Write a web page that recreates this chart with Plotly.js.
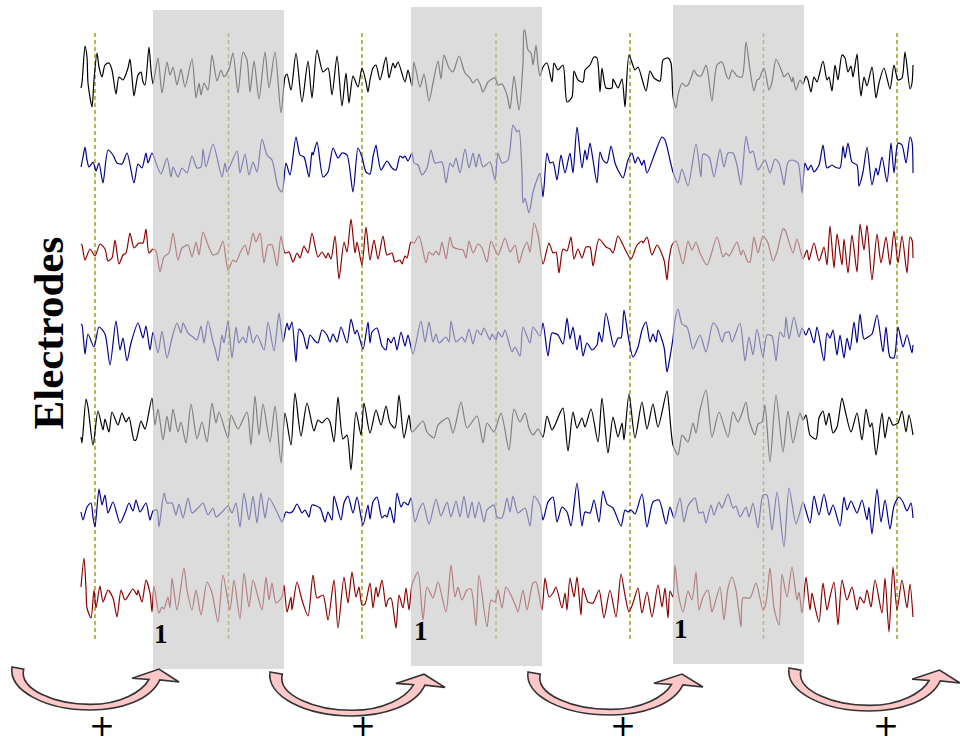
<!DOCTYPE html>
<html><head><meta charset="utf-8">
<script src="https://cdn.plot.ly/plotly-3.0.1.min.js"></script>
<style>html,body{margin:0;padding:0;background:#fff}#c{width:960px;height:743px}</style>
</head><body><div id="c"></div>
<script>
// Each channel: flat list of time, amplitude, time, amplitude ...
const ch1=[0,-13,1,-8,4,29,6,18,7,-8,11,-32,13,-5,16,22,18,8,21,-2,24,10,28,12,31,5,35,-19,38,-2,42,-5,47,7,49,16,51,-2,53,-21,57,0,60,3,62,-7,64,-10,68,28,70,5,72,-9,77,17,81,-18,86,13,89,0,92,8,96,-10,100,6,104,-12,111,16,115,-23,118,-8,120,-20,123,-8,127,-15,131,20,136,-6,140,5,143,-2,148,6,152,22,157,-18,162,23,166,15,169,-17,173,14,178,-24,184,23,188,-13,194,23,200,-38,204,-2,206,1,210,-15,215,22,221,-27,227,14,231,-23,236,25,242,3,247,7,251,-20,256,19,261,-31,265,2,268,-28,272,-1,277,-12,281,7,285,-7,287,-17,289,-5,292,7,295,10,299,-5,305,18,308,-3,312,12,314,7,317,13,324,-7,327,5,331,-11,333,13,339,-12,343,1,348,-26,352,-8,357,14,360,-4,363,20,368,7,372,3,378,19,384,2,389,-3,392,-8,396,-4,399,-9,402,-17,407,-7,414,-3,417,-10,421,-9,426,-20,429,-34,433,-1,438,-35,442,12,443,45,444,44,447,25,450,22,452,10,455,30,457,10,459,-1,462,8,466,12,471,-7,473,12,477,5,482,10,486,-27,491,-22,493,4,497,-5,502,-7,504,5,509,10,513,18,516,17,519,-17,521,7,525,-13,531,-13,532,-4,537,-13,541,-4,544,-32,548,20,554,5,557,8,565,-16,569,4,573,-3,579,-6,582,15,587,17,590,12,592,-22,595,-33,597,-20,601,-8,604,-11,607,-10,611,0,613,5,616,0,620,-1,625,10,627,2,631,-26,636,10,641,13,646,-2,648,-4,651,5,656,-1,661,-2,665,33,669,5,673,-16,676,-5,678,-4,683,7,688,-15,691,-7,695,16,701,3,703,-2,707,2,711,-7,712,-2,715,-15,719,-5,722,-9,725,-1,727,-5,730,-17,733,-2,736,-7,742,14,746,-5,748,-2,751,-16,754,10,757,-5,761,20,764,17,767,3,770,9,772,-2,776,21,778,-3,780,-21,783,-2,786,-11,791,8,795,-23,798,-8,803,7,809,-14,813,10,817,-5,821,-3,824,23,829,-14,831,-8,832,10];
const ch2=[0,-7,2,3,4,13,6,0,8,-7,12,-2,15,-11,18,-3,22,-23,27,10,32,5,36,-3,41,-4,46,7,53,-23,57,-4,61,-8,65,7,67,-3,71,7,75,-3,80,-14,86,2,90,-17,92,-7,97,-17,101,-8,106,-13,111,4,116,-8,120,-7,122,11,125,-7,132,16,141,-17,144,-3,146,-12,156,9,159,-13,164,6,168,-15,172,-2,176,-12,181,21,186,5,191,0,197,-27,201,-32,205,-3,209,-15,215,23,219,5,223,3,228,-17,231,8,232,5,236,18,242,-17,247,-12,252,12,257,2,261,7,266,5,272,-32,277,12,281,3,285,-12,289,-14,292,3,295,15,297,3,300,-10,306,-1,311,-8,315,-10,319,4,322,2,324,4,327,-1,331,7,333,-3,337,-5,341,-15,346,-8,350,10,354,-3,361,-2,365,-23,369,-3,372,-7,375,2,379,-13,384,11,388,-8,392,7,395,-7,398,6,402,-7,409,-2,414,-20,417,7,421,-3,427,0,432,35,436,28,438,30,441,-13,442,-43,444,-38,448,-53,452,-32,457,-17,459,-13,462,-37,466,7,469,-3,472,-2,476,-20,480,5,484,-13,489,7,492,-13,496,33,501,-8,504,10,506,0,509,17,512,0,516,-23,519,8,522,0,526,-3,530,14,534,-3,537,-10,542,-18,547,0,551,7,554,-3,557,3,561,-5,563,0,566,-13,574,7,581,23,584,20,589,0,592,-12,597,-23,601,-9,607,-26,615,16,620,-17,622,6,628,3,633,-17,639,11,643,-7,647,7,652,7,656,-5,660,-25,665,24,669,7,672,9,677,-10,684,0,689,-13,694,1,698,-3,701,-15,703,-25,707,-2,711,0,717,-3,721,-33,724,-3,727,-10,730,-5,733,-12,738,-5,742,15,746,-8,751,-5,754,-7,759,-8,762,14,764,2,767,17,771,-2,776,-5,778,-26,782,-12,786,13,791,-25,795,-8,797,-15,801,3,806,-22,810,17,813,-13,817,17,821,15,825,-3,829,23,831,18,832,-13];
const ch3=[0,6,1,5,4,-10,9,1,14,-6,19,6,24,1,27,-11,31,-8,34,10,38,-14,42,-5,45,-3,49,17,53,2,58,7,62,7,65,21,68,-3,72,1,75,-1,79,-22,83,-7,88,-3,92,17,97,-10,101,2,107,5,111,-7,115,8,118,-5,122,18,127,5,132,-5,137,-3,142,9,147,-20,152,-10,155,-12,159,-3,164,5,167,-5,172,17,175,8,179,17,183,-13,187,5,191,5,196,-16,200,14,204,-3,208,-2,212,-12,216,-3,219,-8,223,4,227,-3,231,17,237,-7,241,-2,245,-8,247,-3,250,-9,254,14,258,-29,263,8,266,-2,270,31,274,-3,276,8,281,-15,285,23,289,-10,293,10,297,-9,302,14,306,-5,311,-3,314,-12,319,-10,321,-14,324,-6,326,-8,330,8,333,7,338,14,345,-13,348,-2,352,-5,355,-1,358,-5,361,8,365,-9,369,13,372,3,377,1,382,0,385,-8,388,9,392,-3,397,6,401,2,406,-12,410,9,417,-5,424,12,429,-2,434,5,438,-13,442,0,446,8,449,-2,453,27,457,15,462,-14,468,7,472,-3,475,-2,478,-23,482,1,486,-1,490,13,493,-9,497,1,501,-8,505,3,509,3,512,-16,518,11,525,3,529,1,532,-3,537,14,542,5,550,-9,556,5,561,9,562,7,566,13,571,-5,576,5,583,-10,586,-30,588,-10,591,5,595,9,602,-14,607,9,611,0,615,8,619,-3,626,-15,636,13,642,-7,645,-3,648,-6,656,8,660,-5,662,0,667,-12,669,-12,673,13,677,-3,682,14,687,7,692,-11,696,-2,702,21,704,20,712,-3,716,11,722,-9,726,0,728,-10,733,7,738,-11,743,3,746,-15,749,24,753,-18,756,16,761,-15,763,11,767,-23,771,15,776,-22,779,26,783,0,786,25,791,-30,796,16,800,-13,805,13,809,-15,813,19,817,-13,821,14,826,-23,829,13,831,10,832,-8];
const ch4=[0,16,1,15,4,-14,7,6,13,-7,18,13,24,6,29,-25,35,19,39,-10,42,2,46,-21,50,-3,57,17,62,2,65,14,69,-10,72,8,77,-13,81,9,86,-18,91,2,96,17,100,7,102,17,107,7,112,3,116,0,120,14,123,-3,127,19,132,-2,134,-8,137,-21,141,5,143,-3,147,19,151,-18,155,13,158,-3,162,3,165,-3,168,14,172,-3,176,5,183,-10,187,18,193,-11,198,27,202,-2,206,17,208,10,211,18,215,-22,218,11,222,6,226,-9,229,5,234,-1,237,-3,241,10,246,5,249,-2,252,6,256,-2,260,13,266,-3,270,21,274,6,276,10,282,-9,287,18,289,-3,291,8,296,12,301,-6,305,-10,307,2,310,-3,313,3,316,-10,320,8,324,-6,327,5,332,-14,340,19,344,-2,348,18,352,-2,355,6,358,-3,365,3,368,-2,370,19,375,-2,381,3,384,-2,388,11,392,-4,396,10,400,5,403,12,409,0,411,6,415,0,417,8,421,3,424,10,431,-12,434,-7,439,-16,442,13,449,-3,452,13,459,4,462,17,467,-16,471,7,477,5,482,-4,486,22,489,1,492,13,496,-10,499,5,502,-16,506,-3,511,-10,516,-5,518,8,521,-2,525,27,533,-7,537,2,540,2,543,30,547,5,552,-17,557,-7,561,10,565,18,569,-2,572,6,575,-2,577,10,583,-7,586,-32,589,-17,592,2,594,20,597,31,601,16,606,13,608,7,612,-9,619,5,625,-12,632,17,636,13,641,-2,644,7,648,8,651,-2,659,17,664,-21,668,3,672,-15,676,11,682,-17,686,5,691,4,695,-21,699,8,703,3,705,23,708,1,713,23,718,3,721,12,725,5,728,12,733,-3,736,13,743,-21,746,7,749,2,752,10,756,-15,759,5,763,-18,766,2,769,-10,773,18,776,-3,779,26,783,1,787,3,791,6,796,25,802,-12,805,13,809,-17,813,-18,817,13,822,-7,826,5,831,-13,832,-5];
const ch5=[0,-17,1,-23,5,21,7,13,12,-25,17,9,22,-10,24,1,28,-12,31,8,37,-5,41,7,45,-2,48,3,53,-20,55,-20,60,-1,64,-9,71,22,74,-5,77,11,82,-20,86,4,89,-12,92,11,97,-12,100,-2,105,-23,110,16,116,-19,121,-2,126,-22,131,17,135,-3,138,8,147,-18,150,5,157,-9,166,8,170,-25,174,24,178,-15,182,16,189,-22,194,14,200,-43,204,7,210,-25,214,27,220,-16,226,17,233,-11,237,0,241,-3,246,2,249,-2,253,-22,257,23,262,-19,266,-15,270,-50,275,8,280,-15,283,17,289,-13,295,10,300,-5,305,14,309,-3,314,-8,318,25,323,-18,328,5,331,-12,342,-1,346,-12,353,-18,357,-5,367,2,372,-13,380,18,386,-8,396,4,402,-23,406,-3,413,-12,420,7,428,-30,433,11,439,-2,444,7,448,-8,452,-15,457,-9,462,-17,466,4,471,-10,474,-5,479,7,482,12,487,-31,492,8,496,-8,501,2,504,-7,510,11,517,-22,521,22,527,-33,532,3,537,-17,541,-3,543,-20,548,26,554,-18,561,18,566,-9,572,16,577,-7,586,29,588,13,592,-25,597,-35,601,-15,603,-17,607,-22,612,-3,615,-13,619,10,625,30,631,-17,638,8,647,-17,652,8,657,-2,661,7,665,18,668,0,674,-15,677,-4,681,-2,684,15,689,-42,695,25,702,-32,707,9,712,-23,719,7,722,0,725,5,729,-15,735,-19,738,2,742,9,745,-5,748,7,752,-13,756,-7,761,22,764,10,770,-12,776,7,781,-20,785,11,789,-7,791,-3,795,-35,801,7,804,-18,808,3,812,-5,817,-3,821,9,825,-12,828,5,832,-15];
const ch6=[0,-2,2,-10,6,3,10,7,12,-7,14,-17,18,21,21,5,24,15,27,-3,32,8,39,-13,44,-3,48,7,52,-1,55,10,59,-2,65,7,69,-10,72,-1,76,0,78,-17,83,17,86,7,91,7,95,-5,98,6,102,-8,107,12,111,-3,117,2,122,7,127,-5,132,2,135,-7,141,-2,147,4,151,-3,155,7,159,-17,163,17,168,-10,172,14,176,-13,180,17,184,-8,188,12,196,-2,201,-12,205,-2,209,-3,212,-1,216,6,221,-3,224,0,228,-7,231,5,239,2,244,-12,247,-2,251,-10,253,14,260,-10,263,7,267,14,272,-3,276,13,282,-15,287,5,289,-9,292,8,296,13,301,-8,304,-5,306,-7,309,3,313,-13,316,17,320,3,323,8,327,5,330,12,334,-12,338,0,342,7,348,-14,355,11,360,-6,366,8,370,-7,375,9,379,-7,383,14,387,-8,391,8,394,-8,398,8,403,-12,406,0,413,5,416,-7,421,-8,426,12,429,-2,432,14,437,-3,444,2,449,-16,453,14,459,5,462,-10,467,8,472,13,476,-12,481,3,486,-2,490,-16,496,27,501,-16,504,-2,509,-3,513,10,518,-12,522,19,526,6,532,2,540,-16,544,0,547,-2,550,0,554,-4,561,16,566,-17,572,8,578,10,585,-14,589,3,593,-8,599,12,603,-12,607,4,614,12,618,-3,622,-2,625,-13,630,5,633,-5,638,8,641,2,647,16,652,2,655,4,659,-7,665,3,668,-7,672,7,677,-18,682,15,686,15,691,-20,696,18,703,-37,708,22,715,-14,719,-2,722,8,729,-13,733,14,738,-5,743,16,748,-5,752,5,759,-16,763,13,766,0,770,9,776,-3,781,10,786,-10,788,3,791,-24,796,21,800,-12,804,10,809,-19,813,4,818,13,822,8,826,-1,830,7,832,-8];
const ch7=[0,13,3,42,5,12,6,-8,10,-18,13,10,15,-8,19,14,22,-2,27,10,32,2,36,-17,40,10,44,0,52,11,56,5,57,10,61,-2,65,20,69,7,71,-12,73,14,78,-13,81,-7,83,-9,87,3,89,-8,91,22,96,-10,103,32,106,10,111,-10,115,10,120,-15,126,18,131,7,137,-22,142,25,149,-10,153,20,159,-19,163,27,168,-7,172,20,177,3,181,-10,185,23,188,0,191,17,195,-3,201,3,203,15,206,-12,210,3,211,-10,216,18,221,0,227,-16,232,25,236,2,242,5,247,-20,253,20,257,-28,263,23,267,-3,271,28,275,3,278,13,281,-5,284,-4,289,17,292,-8,295,13,297,3,301,20,305,-7,307,0,310,2,315,-28,318,5,322,-8,325,12,328,-10,331,15,337,28,342,-20,346,13,352,2,357,18,365,-12,370,35,374,3,377,13,381,0,386,10,390,11,395,-26,398,25,406,-27,410,0,414,-2,417,10,421,-8,425,13,430,5,435,-7,437,-12,442,10,446,-10,452,17,455,18,461,-10,464,22,468,3,472,7,475,13,481,-8,484,7,486,-10,489,22,493,3,496,23,500,-15,502,12,507,-2,512,-3,518,10,523,-18,529,10,535,-17,540,26,544,5,548,-12,552,-3,557,12,561,-13,566,8,571,-17,577,15,581,-7,584,12,587,-18,589,9,592,3,594,35,597,8,602,-12,607,9,611,0,615,28,618,-10,622,3,627,10,631,-12,634,-3,639,13,643,-20,647,12,651,23,655,10,660,-27,662,2,669,2,675,17,682,-10,685,-3,689,32,693,-8,698,-25,701,26,706,3,711,33,716,0,718,8,721,-13,725,23,729,-10,731,7,734,-7,738,-22,742,17,746,-10,749,3,753,18,757,-25,761,20,766,0,771,13,776,-10,779,3,783,-3,786,10,790,-7,794,20,801,-13,804,22,808,-32,812,33,816,-10,821,20,826,-8,829,16,832,-17];

const channels=[ch1,ch2,ch3,ch4,ch5,ch6,ch7];
const baselines=[75,160,250,340,420,510,600];
const colors=['#000000','#00008b','#8b0000','#00008b','#000000','#00008b','#8b0000'];
const startX=81;
const markerTimes=[95,228.5,362,496,630,763.5,897];
const bandRanges=[[153,284,10,669],[411,542,7,666],[673,804,5,664]];
const bandLabels=[[161,634],[421,631],[681,629]];
const plusLabels=[[102,725],[363,725],[623,725],[886,725]];
const arrowBoxes=[[12,667,167,43],[270,672,175,44],[528,672,175,43],[789,668,171,43]];

const traces=channels.map((d,i)=>{
  const x=[],y=[];
  for(let k=0;k<d.length;k+=2){x.push(d[k]+startX);y.push(baselines[i]-d[k+1]);}
  return {type:'scatter',mode:'lines',x,y,line:{color:colors[i],width:1.2,shape:'spline',smoothing:0.7},hoverinfo:'skip',showlegend:false};
});

const shapes=[];
markerTimes.forEach(x=>shapes.push({type:'line',layer:'below',x0:x,x1:x,y0:33,y1:641,xref:'x',yref:'y',
  line:{color:'#a09a20',width:1.5,dash:'4px,3px'}}));
bandRanges.forEach(b=>shapes.push({type:'rect',layer:'above',x0:b[0],x1:b[1],y0:b[2],y1:b[3],xref:'x',yref:'y',
  fillcolor:'rgb(200,200,200)',opacity:0.64,line:{width:0}}));

// arrow outline in unit box coordinates (0..1 across, 0..1 down)
function arrowPath(b){
  const X=u=>(b[0]+u*b[2]).toFixed(1), Y=v=>(b[1]+v*b[3]).toFixed(1);
  const P=(u,v)=>X(u)+','+Y(v);
  return 'M'+P(0,0)+' L'+P(0.07,0.05)+
    ' C'+P(0.04,0.53)+' '+P(0.26,0.87)+' '+P(0.47,0.87)+
    ' C'+P(0.65,0.87)+' '+P(0.78,0.57)+' '+P(0.82,0.29)+
    ' L'+P(0.72,0.26)+' L'+P(0.88,0.05)+' L'+P(1,0.35)+' L'+P(0.885,0.30)+
    ' C'+P(0.83,0.77)+' '+P(0.65,1)+' '+P(0.47,1)+
    ' C'+P(0.2,1)+' '+P(-0.02,0.55)+' '+P(0,0)+' Z';
}
arrowBoxes.forEach(b=>shapes.push({type:'path',layer:'above',xref:'x',yref:'y',path:arrowPath(b),
  fillcolor:'#ffc8c8',line:{color:'#333333',width:1.6}}));

const annotations=[{x:48,y:333.5,xref:'x',yref:'y',text:'<b>Electrodes</b>',textangle:-90,showarrow:false,
  font:{family:'Liberation Serif',size:43,color:'#000'}}];
bandLabels.forEach(p=>annotations.push({x:p[0],y:p[1],xref:'x',yref:'y',text:'<b>1</b>',showarrow:false,
  font:{family:'Liberation Serif',size:27,color:'#000'}}));
plusLabels.forEach(p=>annotations.push({x:p[0],y:p[1],xref:'x',yref:'y',text:'+',showarrow:false,
  font:{family:'DejaVu Sans',size:31,color:'#000'}}));

Plotly.newPlot('c',traces,{
  width:960,height:743,margin:{l:0,r:0,t:0,b:0},paper_bgcolor:'#fff',plot_bgcolor:'#fff',
  showlegend:false,hovermode:false,
  xaxis:{range:[0,960],visible:false,fixedrange:true},
  yaxis:{range:[743,0],visible:false,fixedrange:true},
  shapes,annotations
},{displayModeBar:false,staticPlot:true});
</script></body></html>
